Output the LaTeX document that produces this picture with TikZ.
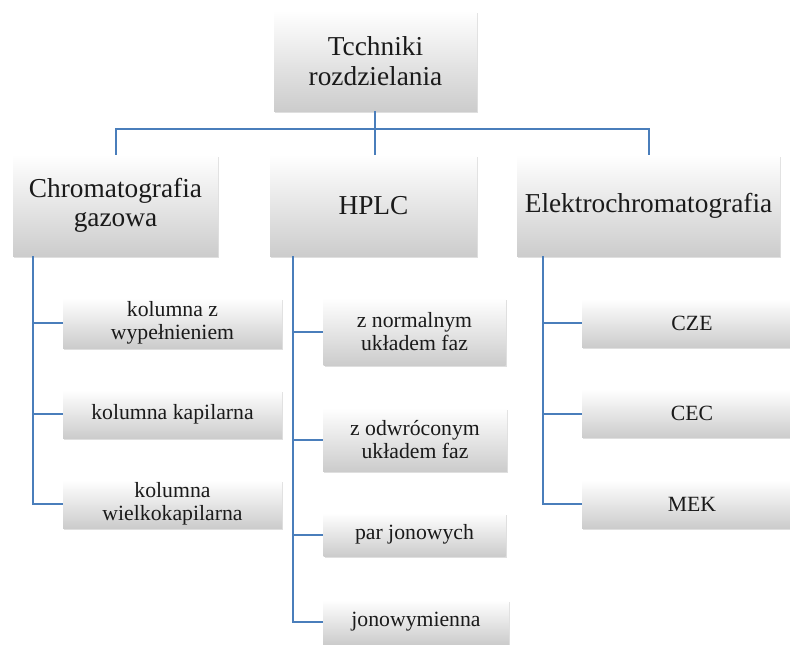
\documentclass[tikz,border=0pt]{standalone}
\usepackage{fontspec}
\setmainfont{Liberation Serif}
\usetikzlibrary{shadows}
\definecolor{linkblue}{HTML}{4A7EBB}
\definecolor{txt}{HTML}{1A1A1A}
\tikzset{
  box/.style={shade, top color=white, bottom color=black!20, draw=none,
    drop shadow={opacity=0.25, shadow xshift=0.8pt, shadow yshift=-1.2pt},
    align=center, text=txt, inner sep=2pt},
  bigbox/.style={box, font=\rmfamily\fontsize{20.5}{22}\selectfont},
  smallbox/.style={box, font=\rmfamily\fontsize{16.3}{17}\selectfont},
  link/.style={draw=linkblue, line width=1.5pt}
}
\begin{document}
\begin{tikzpicture}[x=0.75pt, y=-0.75pt]
\useasboundingbox (0,0) rectangle (790,644);
% level 0
\node[bigbox, minimum width=152.25pt, minimum height=75pt] (top) at (375.5,61) {Tcchniki\\rozdzielania};
% level 1
\node[bigbox, minimum width=153.75pt, minimum height=75.75pt] (gc) at (115.5,205.5) {Chromatografia\\gazowa};
\node[bigbox, minimum width=155.25pt, minimum height=75.75pt] (hplc) at (373.5,205.5) {HPLC};
\node[bigbox, minimum width=197.25pt, minimum height=75.75pt] (el) at (648.5,205.5) {Elektrochromatografia};
% GC children
\node[smallbox, minimum width=164.25pt, minimum height=37.5pt] (gc1) at (172.5,323) {kolumna z\\wypełnieniem};
\node[smallbox, minimum width=164.25pt, minimum height=36pt] (gc2) at (172.5,414) {kolumna kapilarna};
\node[smallbox, minimum width=164.25pt, minimum height=36pt] (gc3) at (172.5,504) {kolumna\\wielkokapilarna};
% HPLC children
\node[smallbox, minimum width=136.5pt, minimum height=50.25pt] (h1) at (414.5,331.5) {z normalnym\\układem faz};
\node[smallbox, minimum width=138pt, minimum height=47.25pt] (h2) at (415,439.5) {z odwróconym\\układem faz};
\node[smallbox, minimum width=136.5pt, minimum height=32.25pt] (h3) at (414.5,534.5) {par jonowych};
\node[smallbox, minimum width=139.5pt, minimum height=33pt] (h4) at (416,622) {jonowymienna};
% Elektro children
\node[smallbox, minimum width=165pt, minimum height=36pt] (e1) at (692,323) {CZE};
\node[smallbox, minimum width=165pt, minimum height=36pt] (e2) at (692,413.5) {CEC};
\node[smallbox, minimum width=165pt, minimum height=36pt] (e3) at (692,504) {MEK};
% connectors level 0-1
\coordinate (bus) at (375,129);
\draw[link] (top.south -| bus) -- (bus);
\draw[link] (gc.north) |- (bus) -| (el.north);
\draw[link] (bus) -- (bus |- hplc.north);
% spines
\coordinate (gcs) at (33,256);
\coordinate (hs) at (293,256);
\coordinate (es) at (543,256);
\draw[link] (gcs) |- (gc1.west);
\draw[link] (gcs) |- (gc2.west);
\draw[link] (gcs) |- (gc3.west);
\draw[link] (hs) |- (h1.west);
\draw[link] (hs) |- (h2.west);
\draw[link] (hs) |- (h3.west);
\draw[link] (hs) |- (h4.west);
\draw[link] (es) |- (e1.west);
\draw[link] (es) |- (e2.west);
\draw[link] (es) |- (e3.west);
\end{tikzpicture}
\end{document}
